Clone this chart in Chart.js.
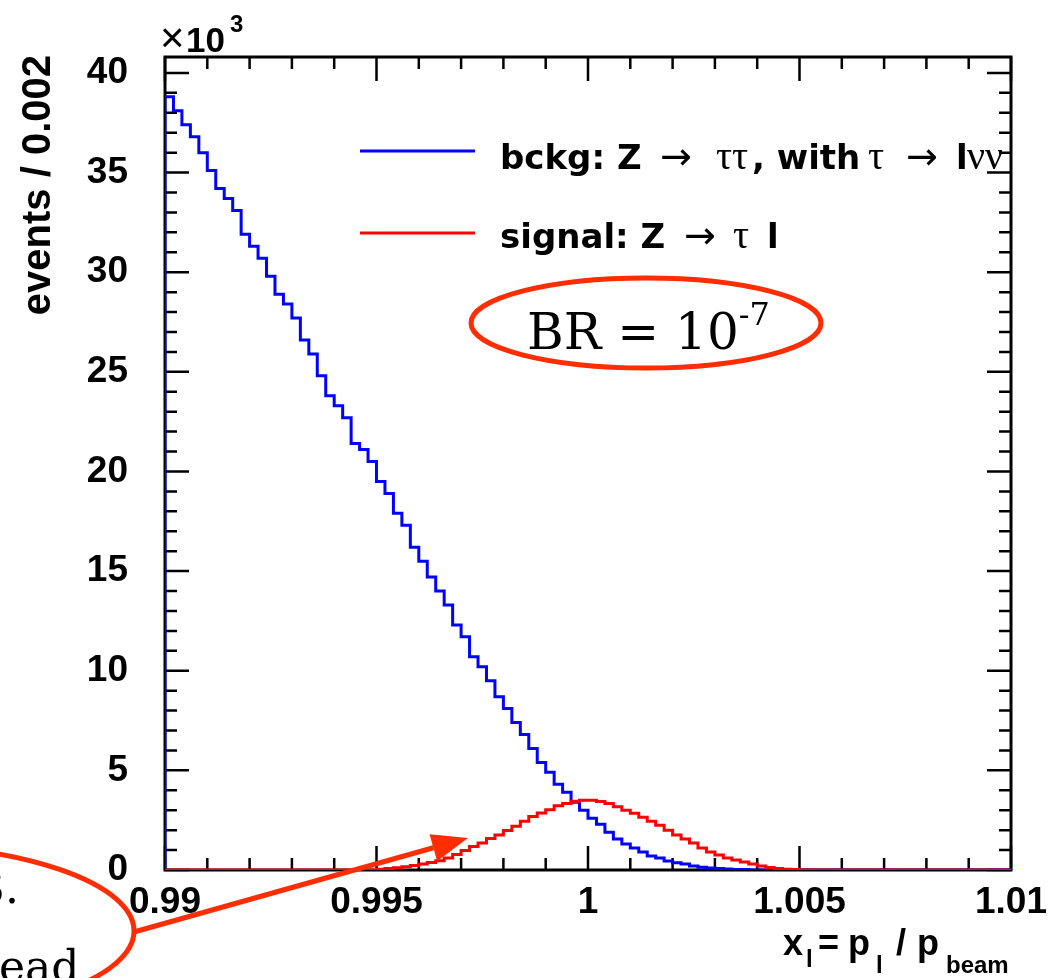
<!DOCTYPE html>
<html>
<head>
<meta charset="utf-8">
<script src="https://cdn.jsdelivr.net/npm/chart.js@4.4.1/dist/chart.umd.min.js"></script>
<style>
  html, body { margin: 0; padding: 0; background: #fff; }
  #wrap { width: 1049px; height: 978px; }
</style>
</head>
<body>
<div id="wrap"><canvas id="histChart" width="1049" height="978"></canvas></div>
<script>
// histogram binning (x_l), values in units of 10^3 events
const binLow = 0.99;
const binWidth = 0.0002;

const bckgValues = [
  38.8, 38.1, 37.4, 36.8, 36.0, 35.1, 34.2, 33.7, 33.1, 31.9,
  31.3, 30.7, 29.8, 28.9, 28.4, 27.7, 26.6, 25.9, 24.8, 23.8,
  23.3, 22.7, 21.4, 21.1, 20.5, 19.5, 18.9, 17.9, 17.3, 16.2,
  15.5, 14.7, 14.0, 13.3, 12.3, 11.7, 10.7, 10.2, 9.5, 8.7,
  8.1, 7.4, 6.8, 6.1, 5.4, 4.9, 4.3, 3.9, 3.4, 3.0,
  2.6, 2.3, 1.9, 1.55, 1.3, 1.1, 0.9, 0.7, 0.6, 0.45,
  0.37, 0.3, 0.2, 0.14, 0.1, 0.07, 0.05, 0.03, 0.02, 0,
  0, 0, 0, 0, 0, 0, 0, 0, 0, 0,
  0, 0, 0, 0, 0, 0, 0, 0, 0, 0,
  0, 0, 0, 0, 0, 0, 0, 0, 0, 0
];

const signalValues = [
  0, 0, 0, 0, 0, 0, 0, 0, 0, 0,
  0, 0, 0, 0, 0, 0, 0, 0, 0, 0,
  0, 0, 0, 0, 0, 0.04, 0.07, 0.11, 0.16, 0.22,
  0.3, 0.38, 0.47, 0.6, 0.78, 0.98, 1.18, 1.36, 1.58, 1.76,
  1.98, 2.2, 2.45, 2.68, 2.86, 3.02, 3.22, 3.34, 3.45, 3.5,
  3.5, 3.44, 3.34, 3.18, 3.0, 2.85, 2.65, 2.45, 2.25, 2.0,
  1.76, 1.55, 1.35, 1.1, 0.9, 0.75, 0.6, 0.5, 0.4, 0.3,
  0.2, 0.12, 0.07, 0.04, 0.02, 0, 0, 0, 0, 0,
  0, 0, 0, 0, 0, 0, 0, 0, 0, 0,
  0, 0, 0, 0, 0, 0, 0, 0, 0, 0
];

const xTickLabels = ["0.99", "0.995", "1", "1.005", "1.01"];
const yTickLabels = ["0", "5", "10", "15", "20", "25", "30", "35", "40"];

const xMin = 0.99, xMax = 1.01, xMinor = 0.001;
const yMin = 0, yMax = 40.8, yMinor = 1;

const SANS = "'Liberation Sans', Arial, sans-serif";
const SERIF = "'Liberation Serif', 'Times New Roman', serif";
const WIDE = "'DejaVu Sans', sans-serif";
const SLIDE = "'DejaVu Serif', serif";
const NOTE_RED = "#ff2d00";

// left bin edges -> stepped line points
function histPoints(values) {
  const pts = [{ x: binLow, y: 0 }];
  values.forEach((v, i) => pts.push({ x: binLow + i * binWidth, y: v }));
  pts.push({ x: binLow + values.length * binWidth, y: values[values.length - 1] });
  return pts;
}

function findLabel(list, v) {
  const l = list.find(t => Math.abs(parseFloat(t) - v) < 1e-6);
  return l === undefined ? "" : l;
}

// frame and inward ticks like ROOT
const frameTicks = {
  id: "frameTicks",
  beforeDatasetsDraw(chart) {
    const { ctx, chartArea: a, scales: { x, y } } = chart;
    ctx.save();
    ctx.strokeStyle = "#000";
    ctx.lineWidth = 2.5;
    ctx.beginPath();
    const ny = Math.floor((yMax - yMin) / yMinor + 1e-6);
    for (let k = 0; k <= ny; k++) {
      const py = y.getPixelForValue(yMin + k * yMinor);
      const len = k % 5 === 0 ? 24 : 12;
      ctx.moveTo(a.left, py); ctx.lineTo(a.left + len, py);
      ctx.moveTo(a.right, py); ctx.lineTo(a.right - len, py);
    }
    const nx = Math.round((xMax - xMin) / xMinor);
    for (let k = 0; k <= nx; k++) {
      const px = x.getPixelForValue(xMin + k * xMinor);
      const len = k % 5 === 0 ? 24 : 12;
      ctx.moveTo(px, a.bottom); ctx.lineTo(px, a.bottom - len);
      ctx.moveTo(px, a.top); ctx.lineTo(px, a.top + len);
    }
    ctx.stroke();
    ctx.lineWidth = 3;
    ctx.strokeRect(a.left, a.top, a.right - a.left, a.bottom - a.top);
    ctx.restore();
  }
};

function drawParts(ctx, baseY, parts) {
  let cur = 0;
  parts.forEach(p => {
    ctx.font = p.font;
    const px = p.x === undefined ? cur : p.x;
    ctx.fillText(p.t, px, baseY + (p.dy || 0));
    cur = px + ctx.measureText(p.t).width;
  });
}

function ellipse(ctx, cx, cy, rx, ry, width) {
  ctx.beginPath();
  ctx.ellipse(cx, cy, rx, ry, 0, 0, Math.PI * 2);
  ctx.lineWidth = width;
  ctx.stroke();
}

// legend, axis titles and the slide annotations
const notes = {
  id: "notes",
  afterDraw(chart) {
    const ctx = chart.ctx;
    ctx.save();
    ctx.fillStyle = "#000";
    ctx.textAlign = "left";
    ctx.textBaseline = "alphabetic";

    // legend
    ctx.lineWidth = 3;
    ctx.strokeStyle = "#0000ff";
    ctx.beginPath(); ctx.moveTo(360, 151); ctx.lineTo(475, 151); ctx.stroke();
    ctx.strokeStyle = "#ff0000";
    ctx.beginPath(); ctx.moveTo(360, 233); ctx.lineTo(475, 233); ctx.stroke();

    const lb = "bold 34px " + WIDE;
    const lg = "40px " + SERIF;
    const la = "38px " + WIDE;
    drawParts(ctx, 169, [
      { t: "bckg: Z", x: 500, font: lb },
      { t: "\u2192", x: 660, font: la },
      { t: "\u03c4\u03c4", x: 716, font: lg },
      { t: ", with", x: 752, font: lb },
      { t: "\u03c4", x: 868, font: lg },
      { t: "\u2192", x: 906, font: la },
      { t: "l", x: 956, font: lb },
      { t: "\u03bd\u03bd", x: 967, font: lg }
    ]);
    drawParts(ctx, 248, [
      { t: "signal: Z", x: 500, font: lb },
      { t: "\u2192", x: 684, font: la },
      { t: "\u03c4", x: 733, font: lg },
      { t: "l", x: 767, font: lb }
    ]);

    // x10^3
    drawParts(ctx, 52, [
      { t: "\u00d7", x: 160, font: "42px " + SANS },
      { t: "10", x: 186, font: "bold 35px " + SANS },
      { t: "3", x: 230, dy: -20, font: "bold 24px " + SANS }
    ]);

    // y title
    ctx.save();
    ctx.translate(50, 55);
    ctx.rotate(-Math.PI / 2);
    ctx.textAlign = "right";
    ctx.font = "bold 40px " + SANS;
    ctx.fillText("events / 0.002", 0, 0);
    ctx.restore();

    // x title
    const xb = "bold 36px " + SANS;
    const xs = "bold 24px " + SANS;
    drawParts(ctx, 955, [
      { t: "x", x: 783, font: xb },
      { t: "l", x: 806, dy: 12, font: xs },
      { t: "=", x: 818, font: xb },
      { t: "p", x: 848, font: xb },
      { t: "l", x: 876, dy: 18, font: xs },
      { t: "/", x: 896, font: xb },
      { t: "p", x: 917, font: xb },
      { t: "beam", x: 946, dy: 18, font: xs }
    ]);

    // BR annotation
    ctx.strokeStyle = NOTE_RED;
    ellipse(ctx, 646, 323, 175, 45, 5);
    drawParts(ctx, 349, [
      { t: "BR = 10", x: 527, font: "50px " + SLIDE },
      { t: "-7", dy: -24, font: "32px " + SLIDE }
    ]);

    // cut-off slide text and callout
    drawParts(ctx, 903, [{ t: "3.", x: -23, font: "44px " + SLIDE }]);
    drawParts(ctx, 982, [{ t: "ead", x: -1, font: "44px " + SLIDE }]);
    ellipse(ctx, -120, 931, 254, 87, 5);

    const x0 = 134, y0 = 932, x1 = 468, y1 = 838;
    const ang = Math.atan2(y1 - y0, x1 - x0);
    const head = 36, half = 14;
    const bx = x1 - head * Math.cos(ang), by = y1 - head * Math.sin(ang);
    ctx.lineWidth = 5;
    ctx.beginPath(); ctx.moveTo(x0, y0); ctx.lineTo(bx, by); ctx.stroke();
    ctx.fillStyle = NOTE_RED;
    ctx.beginPath();
    ctx.moveTo(x1, y1);
    ctx.lineTo(bx + half * Math.sin(ang), by - half * Math.cos(ang));
    ctx.lineTo(bx - half * Math.sin(ang), by + half * Math.cos(ang));
    ctx.closePath();
    ctx.fill();

    ctx.restore();
  }
};

new Chart(document.getElementById("histChart"), {
  type: "line",
  data: {
    datasets: [
      {
        label: "bckg",
        data: histPoints(bckgValues),
        borderColor: "#0000ff",
        borderWidth: 3,
        stepped: "before",
        pointRadius: 0,
        fill: false,
        order: 1
      },
      {
        label: "signal",
        data: histPoints(signalValues),
        borderColor: "#ff0000",
        borderWidth: 3,
        stepped: "before",
        pointRadius: 0,
        fill: false,
        order: 0
      }
    ]
  },
  options: {
    responsive: false,
    animation: false,
    devicePixelRatio: 1,
    layout: { padding: { top: 57, right: 38, left: 0, bottom: 0 } },
    plugins: { legend: { display: false }, tooltip: { enabled: false } },
    scales: {
      x: {
        type: "linear",
        min: xMin,
        max: xMax,
        grid: { display: false, drawTicks: false },
        border: { display: false },
        ticks: {
          stepSize: 0.005,
          autoSkip: false,
          maxRotation: 0,
          padding: 11,
          color: "#000",
          font: { family: SANS, weight: "bold", size: 37 },
          callback: v => findLabel(xTickLabels, v)
        },
        afterFit: s => {
          s.height = 108;
          s.paddingLeft = 0;
          s.paddingRight = 0;
        }
      },
      y: {
        min: yMin,
        max: yMax,
        grid: { display: false, drawTicks: false },
        border: { display: false },
        ticks: {
          stepSize: 5,
          includeBounds: false,
          padding: 37,
          color: "#000",
          font: { family: SANS, weight: "bold", size: 37 },
          callback: v => findLabel(yTickLabels, v)
        },
        afterFit: s => {
          s.width = 165;
          s.paddingTop = 0;
          s.paddingBottom = 0;
        }
      }
    }
  },
  plugins: [frameTicks, notes]
});
</script>
</body>
</html>
